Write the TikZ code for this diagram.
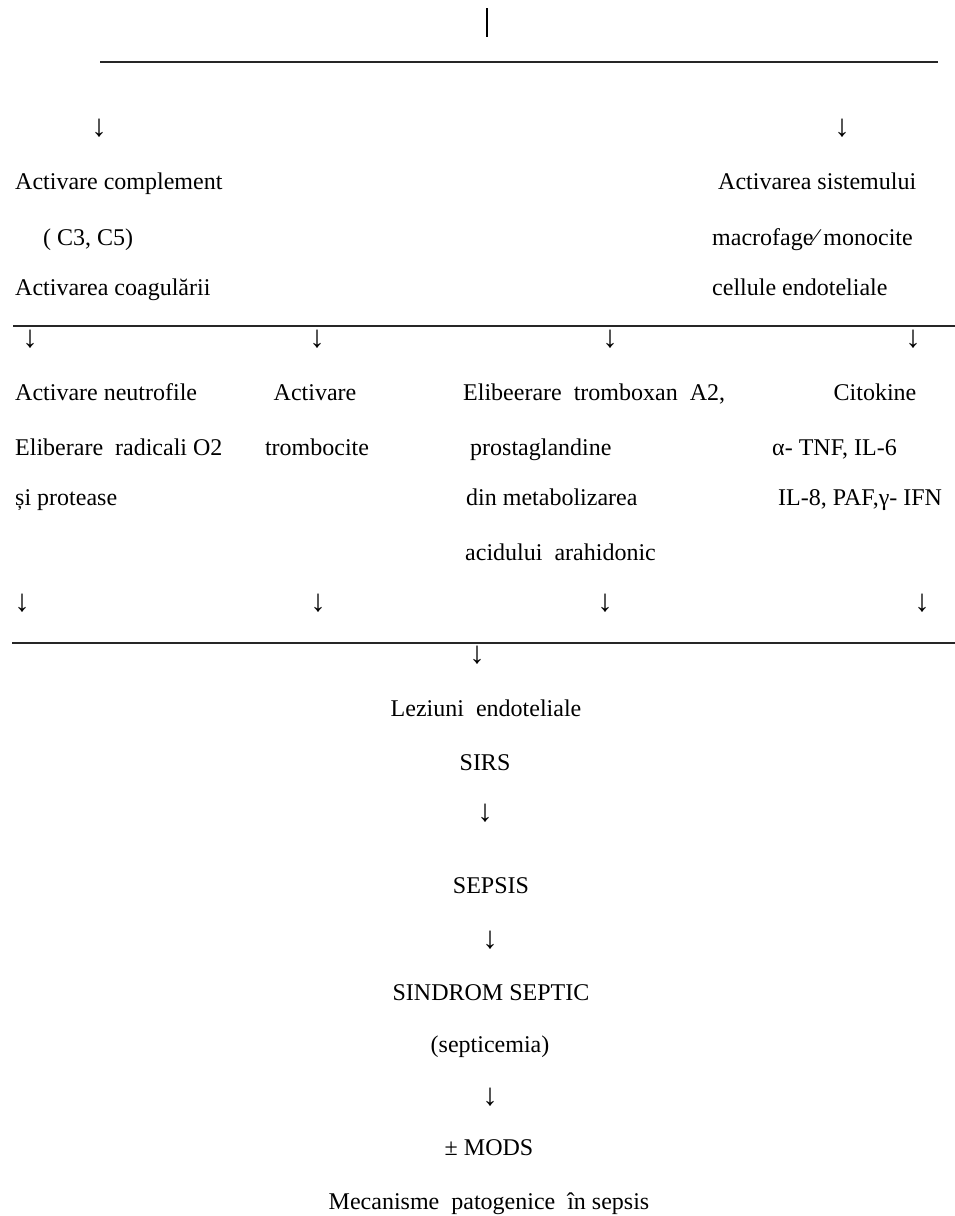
\documentclass[tikz,border=0pt]{standalone}
\usepackage{fontspec}
\setmainfont{Liberation Serif}
\begin{document}
\begin{tikzpicture}[x=1pt,y=-1pt,
  txt/.style={font=\fontsize{24}{28}\selectfont, inner sep=0pt, text=black},
  lt/.style={txt, anchor=base west},
  ct/.style={txt, anchor=base},
  arr/.style={font=\fontsize{31}{34}\selectfont, inner sep=0pt, text=black, anchor=center},
  rulebar/.style={line width=1.6pt, black!85},
  topbar/.style={line width=1.3pt, black}]
\path[use as bounding box, fill=white] (0,0) rectangle (955,1216);
% top
\draw[topbar] (487,8) -- (487,37);
\draw[rulebar] (100,62) -- (938,62);
\node[arr] (a1) at (99,128) {↓};
\node[arr] (a2) at (842,128) {↓};
% second level
\node[lt] (comp) at (15,189) {Activare\ complement};
\node[lt] (c35) at (43,245) {( C3, C5)};
\node[lt] (coag) at (15,295) {Activarea coagulării};
\node[lt] (sist) at (718,189) {Activarea\ sistemului};
\node[lt] (macro) at (712,245) {macrofage⁄ monocite};
\node[lt] (cell) at (712,295) {cellule\ endoteliale};
\draw[rulebar] (13,326) -- (955,326);
\node[arr] (b1) at (30,339) {↓};
\node[arr] (b2) at (317,339) {↓};
\node[arr] (b3) at (610,339) {↓};
\node[arr] (b4) at (913,339) {↓};
% third level
\node[lt] (neut) at (15,400) {Activare\ neutrofile};
\node[lt] (rad) at (15,455) {Eliberare\ \ radicali\ O2};
\node[lt] (prot) at (15,505) {și protease};
\node[ct] (tr1) at (315,400) {Activare};
\node[ct] (tr2) at (317,455) {trombocite};
\node[lt] (el1) at (463,400) {Elibeerare\ \ tromboxan\ \ A2,};
\node[lt] (el2) at (470,455) {prostaglandine};
\node[lt] (el3) at (466,505) {din\ metabolizarea};
\node[lt] (el4) at (465,560) {acidului\ \ arahidonic};
\node[ct] (ci1) at (875,400) {Citokine};
\node[lt] (ci2) at (772,455) {α- TNF, IL-6};
\node[lt] (ci3) at (778,505) {IL-8, PAF,γ- IFN};
\node[arr] (c1) at (22,603) {↓};
\node[arr] (c2) at (318,603) {↓};
\node[arr] (c3) at (605,603) {↓};
\node[arr] (c4) at (922,603) {↓};
\draw[rulebar] (12,643) -- (955,643);
% bottom chain
\node[arr] (d1) at (477,655) {↓};
\node[ct] (lez) at (486,716) {Leziuni\ \ endoteliale};
\node[ct] (sirs) at (485,770) {SIRS};
\node[arr] (d2) at (485,813) {↓};
\node[ct] (sep) at (491,893) {SEPSIS};
\node[arr] (d3) at (490,940) {↓};
\node[ct] (sind) at (491,1000) {SINDROM SEPTIC};
\node[ct] (septi) at (490,1052) {(septicemia)};
\node[arr] (d4) at (490,1097) {↓};
\node[ct] (mods) at (489,1155) {± MODS};
\node[ct] (mec) at (489,1209) {Mecanisme\ \ patogenice\ \ în sepsis};
\end{tikzpicture}
\end{document}
